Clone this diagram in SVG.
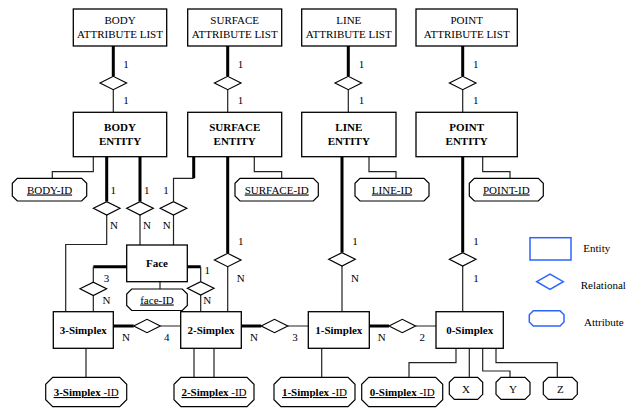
<svg xmlns="http://www.w3.org/2000/svg" width="634" height="410" viewBox="0 0 634 410" font-family="'Liberation Serif', 'DejaVu Serif', serif">
<style>
text{font-family:'Liberation Serif','DejaVu Serif',serif;font-size:11px;fill:#000}
.c{text-anchor:middle}
.b{font-weight:bold}
.u{text-decoration:underline}
.box{fill:#fff;stroke:#000;stroke-width:1.3}
.dia{fill:#fff;stroke:#000;stroke-width:1.2}
.att{fill:#fff;stroke:#000;stroke-width:1.2}
.thin{fill:none;stroke:#222;stroke-width:1.2}
.thick{fill:none;stroke:#000;stroke-width:3}
.leg{fill:#fff;stroke:#2d64ff;stroke-width:1.5}
</style>
<rect width="634" height="410" fill="#fff"/>
<g id="connectors">
<path class="thick" d="M113.3,46V76.3M227.7,46V76.3M348.3,46V76.3M462.7,46V76.3"/>
<path class="thin" d="M113.3,89.7V112.3M227.7,89.7V112.3M348.3,89.7V112.3M462.7,89.7V112.3"/>
<path class="thin" d="M93.3,156.7V171.7H52.3V178.3M254.3,156.7V171.7H281.7V178.3M369,156.7V171.7H396V178.3M482.7,156.7V171.7H510V178.3"/>
<path class="thick" d="M106.7,156.7V201.6M140,156.7V201.6M193.7,156.7V178.3"/>
<path class="thin" d="M193.7,178.3H173.5V201.6M106.7,215V244.5H65.7V311.7M140,215V245M173.5,215V245"/>
<path class="thick" d="M227.7,156.7V253.3M342,156.7V252.6M462.7,156.7V252.6"/>
<path class="thin" d="M227.7,266.7V311.7M342,266V311.7M462.7,266V311.7"/>
<path class="thick" d="M126.7,266.7H93.3M187.3,266.7H200.7"/>
<path class="thin" d="M93.3,266.7V282.1M93.3,295.5V311.7M200.7,266.7V281.6M200.7,295V311.7M160,281.7V289"/>
<path class="thick" d="M113.3,326H133.7M241.3,326H261.2M369.3,326H389"/>
<path class="thin" d="M160.3,326H180.7M287.8,326H308.3M415.6,326H436"/>
<path class="thin" d="M86,348.3V377.3M194,348.3V377.3M214,348.3V377.3M321.7,348.3V377.3M456,348.3V362.7H409V377.3M469.3,348.3V377.3M482.7,348.3V371H510V377.3M496,348.3V362.7H557.3V377.3"/>
<g id="relations">
<polygon class="dia" points="100,83 113.3,76.3 126.6,83 113.3,89.7"/>
<polygon class="dia" points="214.4,83 227.7,76.3 241,83 227.7,89.7"/>
<polygon class="dia" points="335,83 348.3,76.3 361.6,83 348.3,89.7"/>
<polygon class="dia" points="449.4,83 462.7,76.3 476,83 462.7,89.7"/>
<polygon class="dia" points="93.4,208.3 106.7,201.6 120,208.3 106.7,215"/>
<polygon class="dia" points="126.7,208.3 140,201.6 153.3,208.3 140,215"/>
<polygon class="dia" points="160.2,208.3 173.5,201.6 186.8,208.3 173.5,215"/>
<polygon class="dia" points="214.4,260 227.7,253.3 241,260 227.7,266.7"/>
<polygon class="dia" points="328.7,259.3 342,252.6 355.3,259.3 342,266"/>
<polygon class="dia" points="449.4,259.3 462.7,252.6 476,259.3 462.7,266"/>
<polygon class="dia" points="80,288.8 93.3,282.1 106.6,288.8 93.3,295.5"/>
<polygon class="dia" points="187.4,288.3 200.7,281.6 214,288.3 200.7,295"/>
<polygon class="dia" points="133.7,326 147,319.3 160.3,326 147,332.7"/>
<polygon class="dia" points="261.2,326 274.5,319.3 287.8,326 274.5,332.7"/>
<polygon class="dia" points="389,326 402.3,319.3 415.6,326 402.3,332.7"/>
</g>
<g id="cardinalities">
<text class="c" x="126" y="68">1</text><text class="c" x="126" y="104">1</text>
<text class="c" x="240.5" y="68">1</text><text class="c" x="240.5" y="104">1</text>
<text class="c" x="361.5" y="68">1</text><text class="c" x="361.5" y="104">1</text>
<text class="c" x="475.7" y="68">1</text><text class="c" x="475.7" y="104">1</text>
<text class="c" x="113.3" y="194">1</text><text class="c" x="146.7" y="194">1</text><text class="c" x="166" y="194">1</text>
<text class="c" x="114" y="229">N</text><text class="c" x="147" y="229">N</text><text class="c" x="166.7" y="229">N</text>
<text class="c" x="240.7" y="245">1</text><text class="c" x="240.7" y="282">N</text>
<text class="c" x="355" y="245">1</text><text class="c" x="355" y="282">N</text>
<text class="c" x="476" y="245">1</text><text class="c" x="476" y="282">1</text>
<text class="c" x="106.5" y="282">3</text><text class="c" x="106.5" y="304">N</text>
<text class="c" x="207.3" y="274">1</text><text class="c" x="207.3" y="304">N</text>
<text class="c" x="126" y="340.5">N</text><text class="c" x="166.7" y="340.5">4</text>
<text class="c" x="254" y="340.5">N</text><text class="c" x="295" y="340.5">3</text>
<text class="c" x="381.7" y="340.5">N</text><text class="c" x="422.3" y="340.5">2</text>
</g>
</g>
<g id="body-attribute-list"><rect class="box" x="73.3" y="9" width="93.4" height="37"/><text class="c" x="120" y="24">BODY</text><text class="c" x="120" y="37.5">ATTRIBUTE LIST</text></g>
<g id="surface-attribute-list"><rect class="box" x="187.7" y="9" width="94" height="37"/><text class="c" x="234.7" y="24">SURFACE</text><text class="c" x="234.7" y="37.5">ATTRIBUTE LIST</text></g>
<g id="line-attribute-list"><rect class="box" x="301.7" y="9" width="94.3" height="37"/><text class="c" x="348.8" y="24">LINE</text><text class="c" x="348.8" y="37.5">ATTRIBUTE LIST</text></g>
<g id="point-attribute-list"><rect class="box" x="416" y="9" width="101.3" height="37"/><text class="c" x="466.7" y="24">POINT</text><text class="c" x="466.7" y="37.5">ATTRIBUTE LIST</text></g>
<g id="body-entity"><rect class="box" x="73.3" y="112.3" width="93.4" height="44.4"/><text class="c b" x="120" y="131">BODY</text><text class="c b" x="120" y="145">ENTITY</text></g>
<g id="surface-entity"><rect class="box" x="187.7" y="112.3" width="94" height="44.4"/><text class="c b" x="234.7" y="131">SURFACE</text><text class="c b" x="234.7" y="145">ENTITY</text></g>
<g id="line-entity"><rect class="box" x="301.7" y="112.3" width="94.3" height="44.4"/><text class="c b" x="348.8" y="131">LINE</text><text class="c b" x="348.8" y="145">ENTITY</text></g>
<g id="point-entity"><rect class="box" x="416" y="112.3" width="101.3" height="44.4"/><text class="c b" x="466.7" y="131">POINT</text><text class="c b" x="466.7" y="145">ENTITY</text></g>
<g id="body-id"><polygon class="att" points="17.3,178.3 81.7,178.3 86.7,183.3 86.7,196 81.7,201 17.3,201 12.3,196 12.3,183.3"/><text class="c u" x="49.5" y="193.5">BODY-ID</text></g>
<g id="surface-id"><polygon class="att" points="240,178.3 313.3,178.3 318.3,183.3 318.3,196 313.3,201 240,201 235,196 235,183.3"/><text class="c u" x="276.7" y="193.5">SURFACE-ID</text></g>
<g id="line-id"><polygon class="att" points="360,178.3 424,178.3 429,183.3 429,196 424,201 360,201 355,196 355,183.3"/><text class="c u" x="392" y="193.5">LINE-ID</text></g>
<g id="point-id"><polygon class="att" points="474.3,178.3 538.3,178.3 543.3,183.3 543.3,196 538.3,201 474.3,201 469.3,196 469.3,183.3"/><text class="c u" x="506.3" y="193.5">POINT-ID</text></g>
<g id="face"><rect class="box" x="126.7" y="245" width="60.6" height="36.7"/><text class="c b" x="157" y="267">Face</text></g>
<g id="face-id"><polygon class="att" points="131.7,289 182.3,289 187.3,294 187.3,305.5 182.3,310.5 131.7,310.5 126.7,305.5 126.7,294"/><text class="c u" x="157" y="303.5">face-ID</text></g>
<g id="simplex-3"><rect class="box" x="53.3" y="311.7" width="60" height="36.6"/><text class="c b" x="83.3" y="333.5">3-Simplex</text></g>
<g id="simplex-2"><rect class="box" x="180.7" y="311.7" width="60.6" height="36.6"/><text class="c b" x="211" y="333.5">2-Simplex</text></g>
<g id="simplex-1"><rect class="box" x="308.3" y="311.7" width="61" height="36.6"/><text class="c b" x="338.8" y="333.5">1-Simplex</text></g>
<g id="simplex-0"><rect class="box" x="436" y="311.7" width="67.3" height="36.6"/><text class="c b" x="469.7" y="333.5">0-Simplex</text></g>
<g id="simplex-3-id"><polygon class="att" points="52.7,377.3 119.7,377.3 126.7,384.3 126.7,399.7 119.7,406.7 52.7,406.7 45.7,399.7 45.7,384.3"/><text class="c u" x="86.2" y="396"><tspan class="b">3-Simplex</tspan> -ID</text></g>
<g id="simplex-2-id"><polygon class="att" points="181,377.3 247,377.3 254,384.3 254,399.7 247,406.7 181,406.7 174,399.7 174,384.3"/><text class="c u" x="214" y="396"><tspan class="b">2-Simplex</tspan> -ID</text></g>
<g id="simplex-1-id"><polygon class="att" points="281,377.3 348,377.3 355,384.3 355,399.7 348,406.7 281,406.7 274,399.7 274,384.3"/><text class="c u" x="314.5" y="396"><tspan class="b">1-Simplex</tspan> -ID</text></g>
<g id="simplex-0-id"><polygon class="att" points="368.7,377.3 435.7,377.3 442.7,384.3 442.7,399.7 435.7,406.7 368.7,406.7 361.7,399.7 361.7,384.3"/><text class="c u" x="402.2" y="396"><tspan class="b">0-Simplex</tspan> -ID</text></g>
<g id="x"><polygon class="att" points="454.3,377.3 477.7,377.3 482.7,382.3 482.7,394.3 477.7,399.3 454.3,399.3 449.3,394.3 449.3,382.3"/><text class="c" x="466" y="392.5">X</text></g>
<g id="y"><polygon class="att" points="501,377.3 525,377.3 530,382.3 530,394.3 525,399.3 501,399.3 496,394.3 496,382.3"/><text class="c" x="513" y="392.5">Y</text></g>
<g id="z"><polygon class="att" points="548.3,377.3 572.3,377.3 577.3,382.3 577.3,394.3 572.3,399.3 548.3,399.3 543.3,394.3 543.3,382.3"/><text class="c" x="560.3" y="392.5">Z</text></g>
<g id="legend">
<rect class="leg" x="530" y="237.7" width="41" height="22.3"/><text x="583.3" y="252">Entity</text>
<polygon class="leg" points="536.7,281.7 550,274 563.3,281.7 550,289.4"/><text x="580.7" y="289">Relational</text>
<polygon class="leg" points="533.3,310.7 560,310.7 564,314.7 564,322 560,326 533.3,326 529.3,322 529.3,314.7"/><text x="584" y="326">Attribute</text>
</g>
</svg>
